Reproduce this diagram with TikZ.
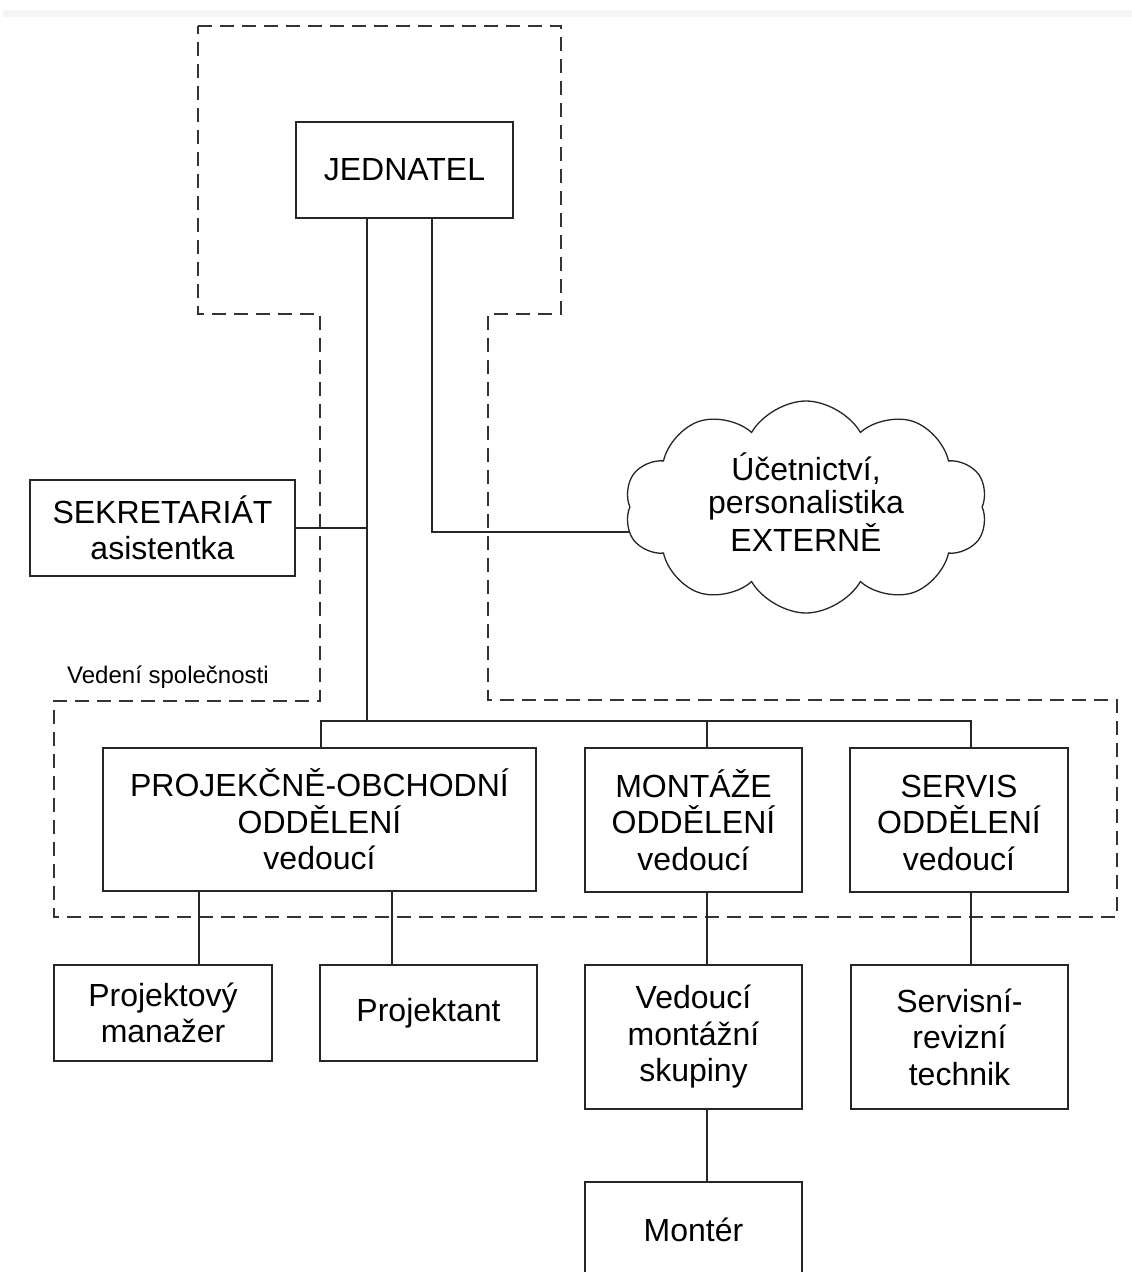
\documentclass[tikz,border=0pt]{standalone}
\usepackage{fontspec}
\setmainfont{Liberation Sans}
\usetikzlibrary{shapes.symbols}
\begin{document}
\begin{tikzpicture}[x=1pt,y=-1pt,
  box/.style={draw=black!85,line width=1.4pt,align=center,inner sep=0pt,
    font=\fontsize{32}{36.5}\selectfont},
  conn/.style={draw=black!85,line width=1.3pt},
  dashline/.style={draw=black!80,line width=2.6pt,dash pattern=on 14pt off 8pt},
  smalltext/.style={font=\fontsize{24}{28}\selectfont,inner sep=0pt}]
\clip (0,0) rectangle (1132,1272);
\fill[white] (0,0) rectangle (1132,1272);
\fill[black!4] (3,10) rectangle (1132,17);

% dashed outline "Vedeni spolecnosti"
\draw[dashline] (198,26) -- (561,26) -- (561,314) -- (488,314) -- (488,700)
  -- (1117,700) -- (1117,917) -- (54,917) -- (54,701) -- (320,701)
  -- (320,314) -- (198,314) -- cycle;
\node[smalltext,anchor=west] (ved) at (67,677) {Vedení společnosti};

% boxes
\node[box,minimum width=217pt,minimum height=96pt] (jed) at (404.5,170) {JEDNATEL};
\node[box,minimum width=265pt,minimum height=96pt] (sek) at (162.5,528) {SEKRETARIÁT\\asistentka};
\node[cloud,draw=black!85,line width=1.3pt,cloud puffs=10,cloud puff arc=120,
  cloud ignores aspect,minimum width=363pt,minimum height=212pt,inner sep=0pt,
  font=\fontsize{32}{33.5}\selectfont] (ext) at (806,507)
  {\raisebox{9pt}{\begin{tabular}{@{}c@{}}Účetnictví,\\personalistika\\EXTERNĚ\end{tabular}}};
\node[box,minimum width=433pt,minimum height=143pt] (proj) at (319.5,819.5)
  {PROJEKČNĚ-OBCHODNÍ\\ODDĚLENÍ\\vedoucí};
\node[box,minimum width=217pt,minimum height=144pt] (mont) at (693.5,820)
  {MONTÁŽE\\ODDĚLENÍ\\vedoucí};
\node[box,minimum width=218pt,minimum height=144pt] (serv) at (959,820)
  {SERVIS\vphantom{Á}\\ODDĚLENÍ\\vedoucí};
\node[box,minimum width=218pt,minimum height=96pt] (pm) at (163,1013)
  {Projektový\\manažer};
\node[box,minimum width=217pt,minimum height=96pt] (pj) at (428.5,1013)
  {Projektant};
\node[box,minimum width=217pt,minimum height=144pt] (vms) at (693.5,1037)
  {Vedoucí\\montážní\\skupiny};
\node[box,minimum width=217pt,minimum height=144pt] (srt) at (959.5,1037)
  {Servisní-\\revizní\\technik};
\node[box,minimum width=217pt,minimum height=96pt] (mtr) at (693.5,1230)
  {Montér};

% helper coordinates
\coordinate (t) at (367,721);
\coordinate (ax) at (432,0);
\coordinate (bl) at (321,721);
\coordinate (br) at (971,721);
\coordinate (mx) at (707,721);
\coordinate (pa) at (199,0);
\coordinate (pb) at (392,0);

% connectors
\draw[conn] (jed.south -| t) -- (t);
\draw[conn] (sek.east) -- (sek.east -| t);
\draw[conn] (jed.south -| ax) |- (ext.188);
\draw[conn] (proj.north -| bl) -- (bl) -- (br) -- (serv.north -| br);
\draw[conn] (mont.north -| mx) -- (mx);
\draw[conn] (proj.south -| pa) -- (pm.north -| pa);
\draw[conn] (proj.south -| pb) -- (pj.north -| pb);
\draw[conn] (mont.south -| mx) -- (vms.north -| mx);
\draw[conn] (serv.south -| br) -- (srt.north -| br);
\draw[conn] (vms.south -| mx) -- (mtr.north -| mx);
\end{tikzpicture}
\end{document}
